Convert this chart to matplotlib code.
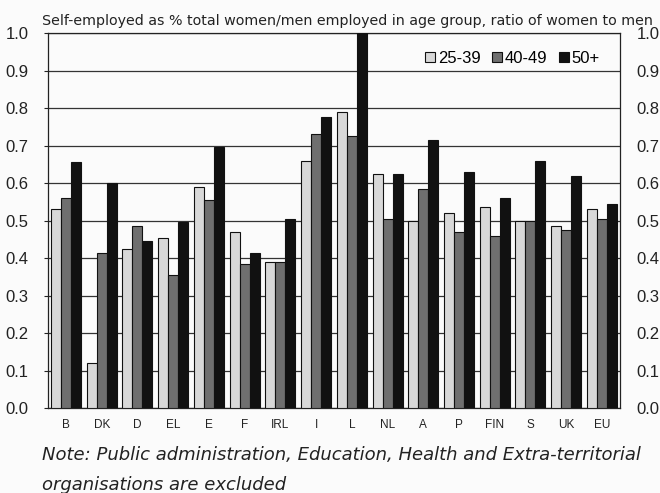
import matplotlib.pyplot as plt
import numpy as np

plt.rcParams['font.family'] = ['Liberation Sans', 'DejaVu Sans']

countries = ["B", "DK", "D", "EL", "E", "F", "IRL", "I", "L", "NL", "A", "P", "FIN", "S", "UK", "EU"]
age_25_39 = [0.53, 0.12, 0.425, 0.455, 0.59, 0.47, 0.39, 0.66, 0.79, 0.625, 0.50, 0.52, 0.535, 0.50, 0.485, 0.53]
age_40_49 = [0.56, 0.415, 0.485, 0.355, 0.555, 0.385, 0.39, 0.73, 0.725, 0.505, 0.585, 0.47, 0.46, 0.50, 0.475, 0.505]
age_50_plus = [0.655, 0.60, 0.445, 0.495, 0.695, 0.415, 0.505, 0.775, 1.0, 0.625, 0.715, 0.63, 0.56, 0.66, 0.62, 0.545]

series = [("25-39", age_25_39, "#d8d8d8"), ("40-49", age_40_49, "#6f6f6f"), ("50+", age_50_plus, "#111111")]

fig = plt.figure(figsize=(6.6, 4.93), dpi=100)
ax = fig.add_axes([0.073, 0.172, 0.866, 0.761])
fig.patch.set_facecolor("#fbfbfb")
ax.set_facecolor("#fbfbfb")

x = np.arange(len(countries))
w = 0.28
for i, (name, vals, col) in enumerate(series):
    ax.bar(x + (i - 1) * w, vals, width=w, color=col, edgecolor="#111111", linewidth=0.8, label=name, zorder=3)

ax.set_xlim(-0.5, len(countries) - 0.5)
ax.set_ylim(0, 1.0)
ticks = np.arange(0, 1.01, 0.1)
ax.set_yticks(ticks)
ax.set_yticklabels([f"{v:.1f}" for v in ticks], fontsize=12, color="#222222")
ax.yaxis.grid(True, color="#333333", linewidth=0.9, zorder=0)
ax.tick_params(axis="y", length=3, width=0.8, color="#222222", pad=11)
ax.set_xticks(x)
ax.set_xticklabels(countries, fontsize=8.5, color="#222222")
ax.tick_params(axis="x", length=0, pad=8)
for s in ax.spines.values():
    s.set_color("#222222")
    s.set_linewidth(0.9)

ax2 = ax.twinx()
ax2.set_ylim(0, 1.0)
ax2.set_yticks(ticks)
ax2.set_yticklabels([f"{v:.1f}" for v in ticks], fontsize=12, color="#222222")
ax2.tick_params(axis="y", length=0, pad=12)
for s in ax2.spines.values():
    s.set_visible(False)

ax.legend(loc="center right", bbox_to_anchor=(0.965, 0.933), ncol=3, frameon=False, fontsize=12,
          handlelength=0.6, handleheight=0.6, handletextpad=0.15, columnspacing=0.7, borderpad=0,
          borderaxespad=0)

fig.text(0.526, 0.958, "Self-employed as % total women/men employed in age group, ratio of women to men",
         ha="center", va="center", fontsize=10.3, color="#222222", family="DejaVu Sans")
fig.text(0.064, 0.078, "Note: Public administration, Education, Health and Extra-territorial",
         ha="left", va="center", fontsize=13.0, style="italic", color="#222222", family="DejaVu Sans")
fig.text(0.064, 0.016, "organisations are excluded",
         ha="left", va="center", fontsize=13.0, style="italic", color="#222222", family="DejaVu Sans")

fig.savefig("out.png", dpi=100, facecolor=fig.get_facecolor())
